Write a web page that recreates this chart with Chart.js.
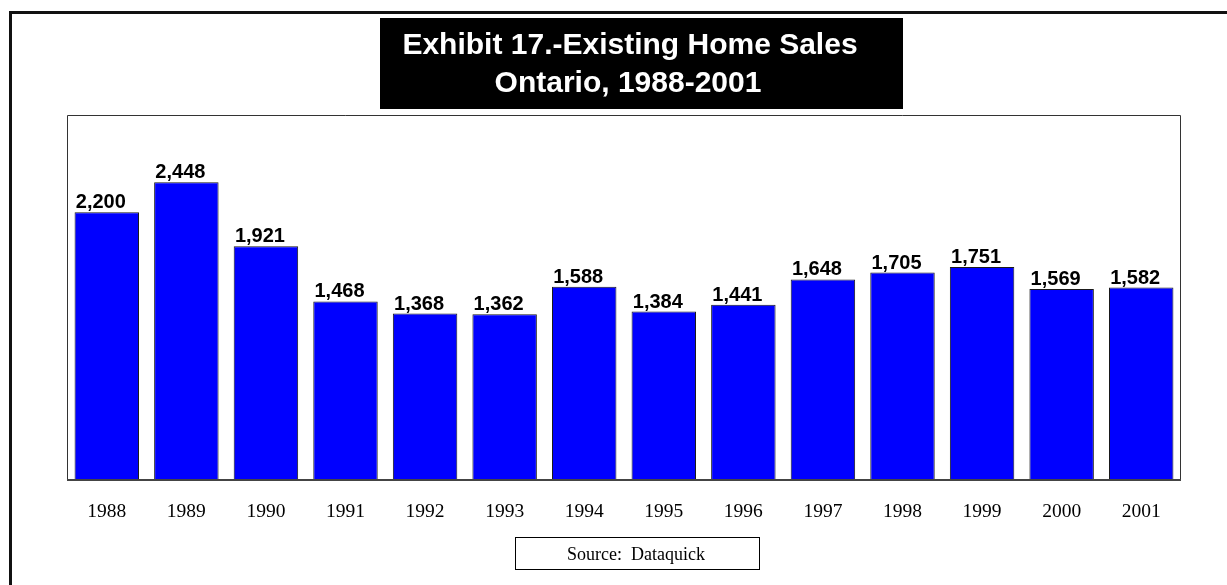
<!DOCTYPE html>
<html lang="en">
<head>
    <meta charset="UTF-8">
    <title>Existing Home Sales - Ontario</title>
    <script src="https://cdn.jsdelivr.net/npm/chart.js@4/dist/chart.umd.min.js"></script>
    <style>
        html, body {
            margin: 0;
            padding: 0;
            background: #fff;
        }

        #wrap {
            width: 1227px;
            height: 585px;
        }
    </style>
</head>
<body>
    <div id="wrap">
        <canvas id="salesChart" width="1227" height="585"></canvas>
    </div>
    <script>
        const years = ['1988', '1989', '1990', '1991', '1992', '1993', '1994',
                       '1995', '1996', '1997', '1998', '1999', '2000', '2001'];
        const sales = [2200, 2448, 1921, 1468, 1368, 1362, 1588,
                       1384, 1441, 1648, 1705, 1751, 1569, 1582];
        const titleLines = ['Exhibit 17.-Existing Home Sales', 'Ontario, 1988-2001'];
        const sourceText = 'Source:  Dataquick';

        // page frame, black title block and source box
        const decorations = {
            id: 'decorations',
            beforeDraw(chart) {
                const ctx = chart.ctx;
                ctx.save();
                ctx.fillStyle = '#fff';
                ctx.fillRect(0, 0, chart.width, chart.height);

                // outer frame (top and left only)
                ctx.fillStyle = '#111';
                ctx.fillRect(9, 11, chart.width - 9, 3);
                ctx.fillRect(9, 11, 3, chart.height - 11);

                // title block
                ctx.fillStyle = '#000';
                ctx.fillRect(380, 18, 523, 91);
                ctx.fillStyle = '#fff';
                ctx.font = 'bold 30px "Liberation Sans", Arial, sans-serif';
                ctx.textAlign = 'center';
                ctx.textBaseline = 'alphabetic';
                ctx.fillText(titleLines[0], 630, 54);
                ctx.fillText(titleLines[1], 628, 92);

                // source box
                ctx.strokeStyle = '#000';
                ctx.lineWidth = 1;
                ctx.strokeRect(515.5, 537.5, 244, 32);
                ctx.fillStyle = '#000';
                ctx.font = '18px "Liberation Serif", "Times New Roman", serif';
                ctx.fillText(sourceText, 636, 560);
                ctx.restore();
            },
            afterDatasetsDraw(chart) {
                const ctx = chart.ctx;
                const a = chart.chartArea;
                ctx.save();
                // plot frame
                ctx.strokeStyle = '#333';
                ctx.lineWidth = 1;
                ctx.beginPath();
                ctx.moveTo(a.left + 0.5, a.bottom);
                ctx.lineTo(a.left + 0.5, a.top + 0.5);
                ctx.lineTo(a.right - 0.5, a.top + 0.5);
                ctx.lineTo(a.right - 0.5, a.bottom);
                ctx.stroke();
                ctx.strokeStyle = '#444';
                ctx.lineWidth = 2;
                ctx.beginPath();
                ctx.moveTo(a.left, a.bottom);
                ctx.lineTo(a.right, a.bottom);
                ctx.stroke();

                // value labels above each bar
                ctx.fillStyle = '#000';
                ctx.font = 'bold 20px "Liberation Sans", Arial, sans-serif';
                ctx.textAlign = 'center';
                ctx.textBaseline = 'alphabetic';
                chart.getDatasetMeta(0).data.forEach((bar, i) => {
                    ctx.fillText(sales[i].toLocaleString('en-US'), bar.x - 6, bar.y - 4);
                });
                ctx.restore();
            }
        };

        const ctx = document.getElementById('salesChart').getContext('2d');
        new Chart(ctx, {
            type: 'bar',
            data: {
                labels: years,
                datasets: [{
                    data: sales,
                    backgroundColor: '#0000ff',
                    borderColor: '#1a1a1a',
                    borderWidth: 1,
                    categoryPercentage: 1,
                    barPercentage: 0.81
                }]
            },
            options: {
                responsive: false,
                animation: false,
                layout: {
                    padding: { left: 67, right: 46, top: 115, bottom: 0 }
                },
                plugins: {
                    legend: { display: false },
                    tooltip: { enabled: false }
                },
                scales: {
                    x: {
                        grid: { display: false, drawTicks: false },
                        border: { display: false },
                        ticks: {
                            color: '#000',
                            padding: 20,
                            font: { family: '"Liberation Serif", "Times New Roman", serif', size: 19.5 }
                        },
                        afterFit(scale) {
                            scale.height = 105;
                        }
                    },
                    y: {
                        display: false,
                        min: 0,
                        max: 3000
                    }
                }
            },
            plugins: [decorations]
        });
    </script>
</body>
</html>
